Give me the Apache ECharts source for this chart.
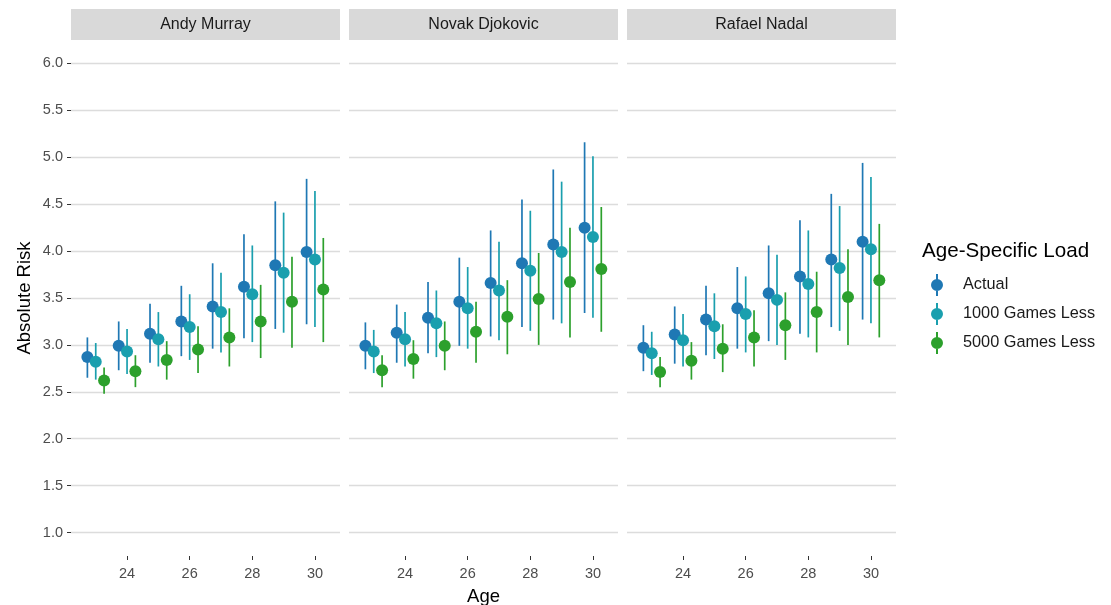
<!DOCTYPE html>
<html><head><meta charset="utf-8">
<script src="https://cdn.jsdelivr.net/npm/echarts@6/dist/echarts.min.js"></script>
<style>html,body{margin:0;padding:0;background:#fff}#c{width:1111px;height:605px}</style>
</head><body><div id="c"></div>
<script>
const ages = [23, 24, 25, 26, 27, 28, 29, 30];
const players = ['Andy Murray', 'Novak Djokovic', 'Rafael Nadal'];
const loads = ['Actual', '1000 Games Less', '5000 Games Less'];
const yTicks = [1.0, 1.5, 2.0, 2.5, 3.0, 3.5, 4.0, 4.5, 5.0, 5.5, 6.0];
const xTicks = [24, 26, 28, 30];

// Andy Murray
const murrayActual   = [2.87, 2.99, 3.12, 3.25, 3.41, 3.62, 3.85, 3.99];
const murrayActualLo = [2.65, 2.73, 2.81, 2.88, 2.96, 3.07, 3.17, 3.22];
const murrayActualHi = [3.08, 3.25, 3.44, 3.63, 3.87, 4.18, 4.53, 4.77];
const murray1000     = [2.82, 2.93, 3.06, 3.19, 3.35, 3.54, 3.77, 3.91];
const murray1000Lo   = [2.63, 2.69, 2.77, 2.84, 2.92, 3.03, 3.13, 3.19];
const murray1000Hi   = [3.02, 3.17, 3.35, 3.54, 3.77, 4.06, 4.41, 4.64];
const murray5000     = [2.62, 2.72, 2.84, 2.95, 3.08, 3.25, 3.46, 3.59];
const murray5000Lo   = [2.48, 2.55, 2.63, 2.70, 2.77, 2.86, 2.97, 3.03];
const murray5000Hi   = [2.76, 2.89, 3.04, 3.20, 3.39, 3.64, 3.94, 4.14];

// Novak Djokovic
const djokovicActual   = [2.99, 3.13, 3.29, 3.46, 3.66, 3.87, 4.07, 4.25];
const djokovicActualLo = [2.74, 2.81, 2.91, 2.99, 3.09, 3.19, 3.27, 3.34];
const djokovicActualHi = [3.24, 3.43, 3.67, 3.93, 4.22, 4.55, 4.87, 5.16];
const djokovic1000     = [2.93, 3.06, 3.23, 3.39, 3.58, 3.79, 3.99, 4.15];
const djokovic1000Lo   = [2.70, 2.77, 2.87, 2.96, 3.05, 3.15, 3.23, 3.29];
const djokovic1000Hi   = [3.16, 3.35, 3.58, 3.83, 4.10, 4.43, 4.74, 5.01];
const djokovic5000     = [2.73, 2.85, 2.99, 3.14, 3.30, 3.49, 3.67, 3.81];
const djokovic5000Lo   = [2.55, 2.64, 2.73, 2.81, 2.90, 3.00, 3.08, 3.14];
const djokovic5000Hi   = [2.89, 3.05, 3.25, 3.46, 3.69, 3.98, 4.25, 4.47];

// Rafael Nadal
const nadalActual   = [2.97, 3.11, 3.27, 3.39, 3.55, 3.73, 3.91, 4.10];
const nadalActualLo = [2.72, 2.80, 2.89, 2.96, 3.04, 3.12, 3.19, 3.27];
const nadalActualHi = [3.21, 3.41, 3.63, 3.83, 4.06, 4.33, 4.61, 4.94];
const nadal1000     = [2.91, 3.05, 3.20, 3.33, 3.48, 3.65, 3.82, 4.02];
const nadal1000Lo   = [2.68, 2.77, 2.85, 2.92, 3.00, 3.08, 3.15, 3.23];
const nadal1000Hi   = [3.14, 3.33, 3.55, 3.73, 3.96, 4.22, 4.48, 4.79];
const nadal5000     = [2.71, 2.83, 2.96, 3.08, 3.21, 3.35, 3.51, 3.69];
const nadal5000Lo   = [2.55, 2.63, 2.71, 2.77, 2.84, 2.92, 3.00, 3.08];
const nadal5000Hi   = [2.87, 3.03, 3.22, 3.37, 3.56, 3.78, 4.02, 4.29];

const est = [[murrayActual, murray1000, murray5000], [djokovicActual, djokovic1000, djokovic5000], [nadalActual, nadal1000, nadal5000]];
const lo  = [[murrayActualLo, murray1000Lo, murray5000Lo], [djokovicActualLo, djokovic1000Lo, djokovic5000Lo], [nadalActualLo, nadal1000Lo, nadal5000Lo]];
const hi  = [[murrayActualHi, murray1000Hi, murray5000Hi], [djokovicActualHi, djokovic1000Hi, djokovic5000Hi], [nadalActualHi, nadal1000Hi, nadal5000Hi]];

const colors = ['#1f78b4', '#1a9fae', '#2ca02c'];
const dodge = [-0.8 / 3, 0, 0.8 / 3];
const FONT = 'Liberation Sans, Arial, Helvetica, sans-serif';
const panelLeft = [71, 349, 627];
const panelW = 269, panelTop = 40, panelH = 516;

const chart = echarts.init(document.getElementById('c'), null, { renderer: 'canvas' });

const grid = [], xAxis = [], yAxis = [], series = [], graphic = [];
players.forEach((p, i) => {
  grid.push({ left: panelLeft[i], top: panelTop, width: panelW, height: panelH, containLabel: false, outerBoundsMode: 'none' });
  xAxis.push({
    type: 'value', gridIndex: i, min: 22.21, max: 30.8,
    axisLine: { show: false }, splitLine: { show: false },
    axisTick: { show: true, customValues: xTicks, length: 4, lineStyle: { color: '#333', width: 1 } },
    axisLabel: { customValues: xTicks, color: '#4d4d4d', fontSize: 14.5, fontFamily: FONT, margin: 10 },
    name: i === 1 ? 'Age' : '', nameLocation: 'middle', nameGap: 31,
    nameTextStyle: { fontSize: 18.5, color: '#000', fontFamily: FONT }
  });
  yAxis.push({
    type: 'value', gridIndex: i, min: 0.75, max: 6.25,
    axisLine: { show: false },
    axisTick: { show: i === 0, customValues: yTicks, length: 4, lineStyle: { color: '#333', width: 1 } },
    axisLabel: { show: i === 0, customValues: yTicks, color: '#4d4d4d', fontSize: 14.5, fontFamily: FONT, margin: 8,
      formatter: v => v.toFixed(1) },
    splitLine: { show: true, lineStyle: { color: '#dcdcdc', width: 1.3 } },
    name: i === 0 ? 'Absolute Risk' : '', nameLocation: 'middle', nameGap: 37,
    nameTextStyle: { fontSize: 18.5, color: '#000', fontFamily: FONT }
  });
  graphic.push({ type: 'rect', left: panelLeft[i], top: 9, shape: { width: panelW, height: 31 }, style: { fill: '#d9d9d9' }, silent: true });
  graphic.push({ type: 'text', x: panelLeft[i] + panelW / 2, y: 24.5,
    style: { text: p, fill: '#1a1a1a', font: '16px ' + FONT, textAlign: 'center', textVerticalAlign: 'middle' }, silent: true });

  loads.forEach((l, s) => {
    series.push({
      type: 'custom', name: l + ' range', xAxisIndex: i, yAxisIndex: i, z: 2,
      data: ages.map((a, k) => [a + dodge[s], lo[i][s][k], hi[i][s][k]]),
      encode: { x: 0, y: [1, 2] },
      renderItem: (params, api) => {
        const p1 = api.coord([api.value(0), api.value(1)]);
        const p2 = api.coord([api.value(0), api.value(2)]);
        return { type: 'line', shape: { x1: p1[0], y1: p1[1], x2: p2[0], y2: p2[1] },
          style: { stroke: colors[s], lineWidth: 1.7 } };
      },
      silent: true
    });
  });
  loads.forEach((l, s) => {
    series.push({
      type: 'scatter', name: l, xAxisIndex: i, yAxisIndex: i, z: 3,
      data: ages.map((a, k) => [a + dodge[s], est[i][s][k]]),
      symbol: 'circle', symbolSize: 12,
      itemStyle: { color: colors[s], opacity: 1 },
      silent: true
    });
  });
});

const legendIcon = 'path://M9,0L11,0L11,22L9,22Z M4,11A6,6 0 1,1 16,11A6,6 0 1,1 4,11Z';

chart.setOption({
  animation: false,
  backgroundColor: '#fff',
  color: colors,
  title: { text: 'Age-Specific Load', left: 917, top: 236,
    textStyle: { fontSize: 20.6, fontWeight: 'normal', color: '#000', fontFamily: FONT } },
  legend: {
    data: loads, orient: 'vertical', left: 926, top: 269,
    itemWidth: 42, itemHeight: 22, itemGap: 7,
    icon: legendIcon,
    textStyle: { fontSize: 16.3, color: '#1a1a1a', fontFamily: FONT },
    selectedMode: false
  },
  grid, xAxis, yAxis, series, graphic
});
</script>
</body></html>
